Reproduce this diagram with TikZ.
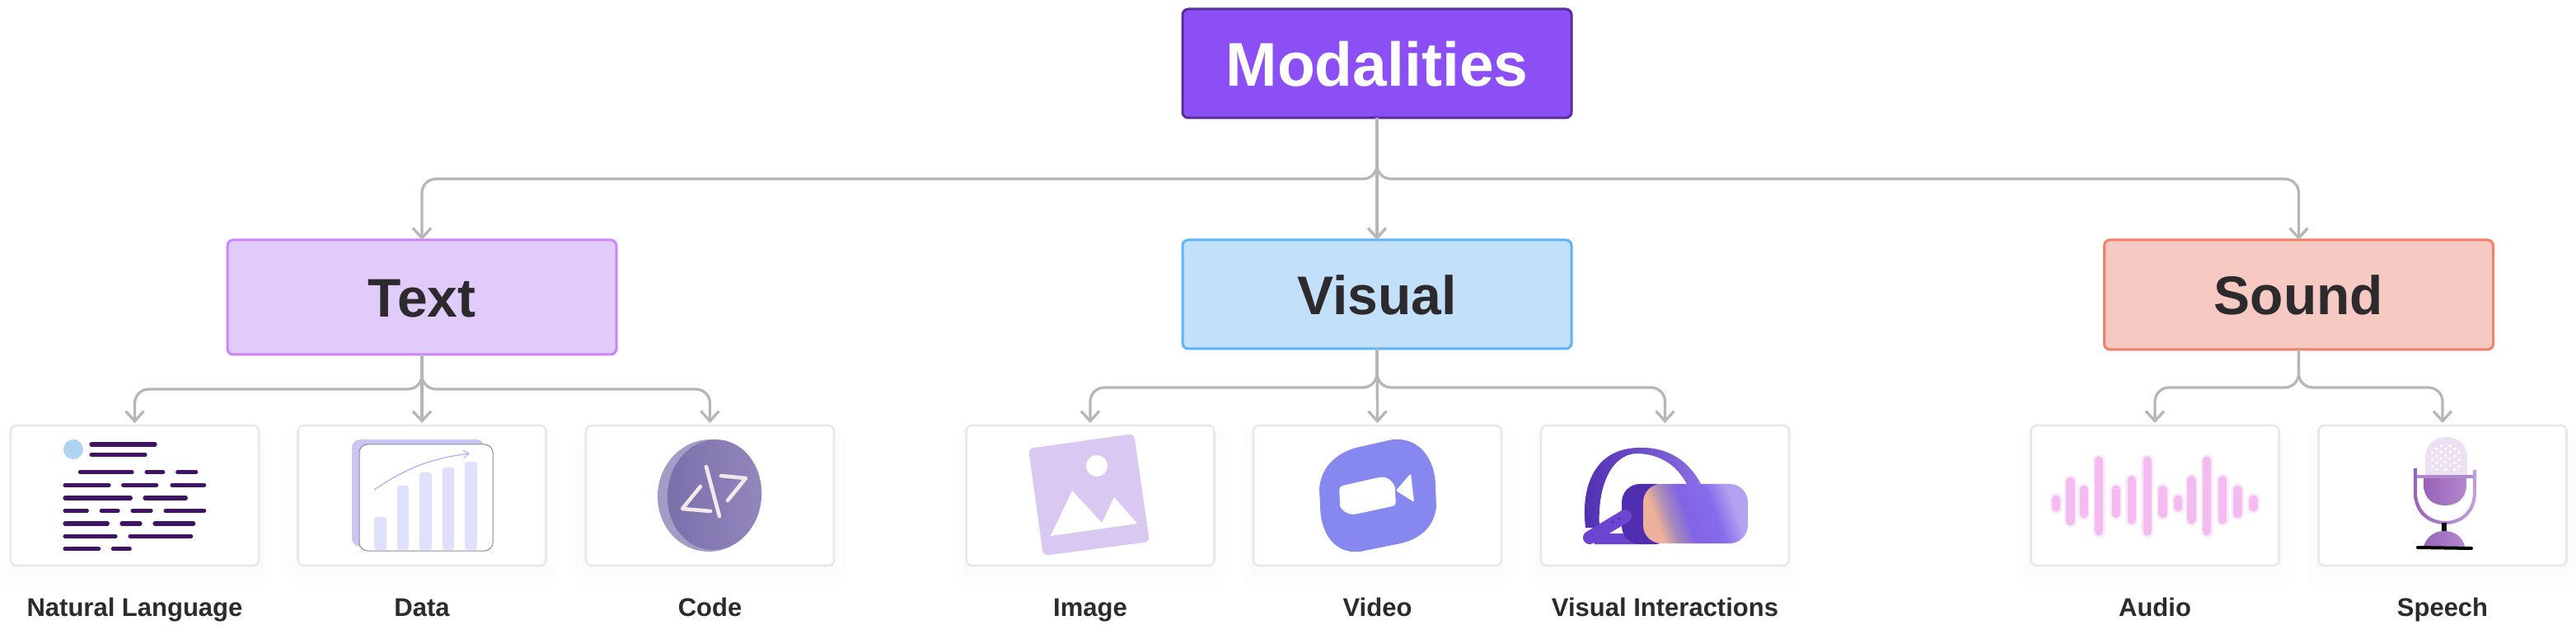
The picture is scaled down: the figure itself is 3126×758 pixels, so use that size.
\documentclass[tikz,border=0pt]{standalone}
\usepackage{fontspec}
\setmainfont{Liberation Sans}
\usetikzlibrary{arrows.meta}
\definecolor{ink}{HTML}{2D2A2E}
\definecolor{lnk}{HTML}{B6B6B6}
\definecolor{nlc}{HTML}{3F1463}
\definecolor{rootfill}{HTML}{8C4EF5}
\definecolor{rootline}{HTML}{5A2C9D}
\definecolor{textfill}{HTML}{E0CBFA}
\definecolor{textline}{HTML}{CD83FB}
\definecolor{visfill}{HTML}{C3E0FB}
\definecolor{visline}{HTML}{5CB5FC}
\definecolor{sndfill}{HTML}{F6C9C3}
\definecolor{sndline}{HTML}{F47E66}
\definecolor{vra}{HTML}{EDB09A}
\definecolor{vrb}{HTML}{A88CB8}
\definecolor{vrc}{HTML}{8264E6}
\definecolor{vrd}{HTML}{866CEA}
\definecolor{vre}{HTML}{B3A1F2}
\definecolor{vrdark}{HTML}{4F2EB0}
\definecolor{vrmid}{HTML}{6B45CF}
\definecolor{vrlight}{HTML}{8A6EE2}
\definecolor{databack}{HTML}{C9C5F5}
\definecolor{databar}{HTML}{DFE0FB}
\definecolor{datacurve}{HTML}{B8A9F5}
\definecolor{codeback}{HTML}{A39CC6}
\definecolor{codea}{HTML}{7A6FA9}
\definecolor{codeb}{HTML}{9387BD}
\definecolor{codeglyph}{HTML}{F3E8EE}
\definecolor{imgc}{HTML}{D9C8F2}
\definecolor{vidc}{HTML}{8688EF}
\definecolor{wavec}{HTML}{F3BBF0}
\definecolor{waveg}{HTML}{FAEAFB}
\definecolor{mictop}{HTML}{EEE0F3}
\definecolor{mica}{HTML}{9A62B8}
\definecolor{micb}{HTML}{B088CC}
\definecolor{micl}{HTML}{C0A0DC}
\definecolor{nlcirc}{HTML}{AED4F0}
\definecolor{shadea}{HTML}{FDFDFD}
\definecolor{shadeb}{HTML}{FBFBFB}
\pgfdeclarehorizontalshading{vrg}{100bp}{color(0bp)=(vra); color(29bp)=(vra); color(36bp)=(vrb); color(45bp)=(vrc); color(60bp)=(vrd); color(71bp)=(vre); color(100bp)=(vre)}
\tikzset{
  catbox/.style={line width=1.5pt,rounded corners=3.5pt,inner sep=0pt,outer sep=0pt,minimum width=236pt,text=ink,font=\fontsize{33}{36}\selectfont\bfseries,text height=24.5pt,text depth=0pt},
  leafbox/.style={draw=black!9,fill=white,line width=1.3pt,rounded corners=3.5pt,inner sep=0pt,outer sep=0pt,minimum width=150.5pt,minimum height=85pt},
  leaflabel/.style={anchor=base,text=ink,font=\fontsize{15.5}{17}\selectfont\bfseries,inner sep=0pt},
  conn/.style={draw=lnk,line width=1.6pt,rounded corners=8.5pt,-{Straight Barb[length=6pt,width=11pt,line width=1.6pt]}},
  leafconn/.style={conn,shorten >=1.5pt},
  nlbar/.style={draw=nlc,line width=2.6pt,line cap=round},
  wave/.style={line cap=round}
}
\begin{document}
\begin{tikzpicture}[x=0.5pt,y=-0.5pt]
\useasboundingbox (0,0) rectangle (3126,758);
\fill[white] (0,0) rectangle (3126,758);

% soft shadows of the leaf boxes
\foreach \l/\r in {13/314,362/662,711/1012,1172.5/1473.5,1521/1822,1870/2171,2464.5/2765,2814/3114}{
  \fill[shadea,rounded corners=8pt] (\l-14,520) rectangle (\r+14,712);
}
\foreach \l/\r in {13/314,362/662,711/1012,1172.5/1473.5,1521/1822,1870/2171,2464.5/2765,2814/3114}{
  \fill[shadeb,rounded corners=6pt] (\l-5,520) rectangle (\r+5,698);
}

% category nodes
\node[catbox,draw=rootline,fill=rootfill,text=white,font=\fontsize{37.5}{40}\selectfont\bfseries,text height=28pt,minimum height=66pt] (root) at (1671,77) {Modalities};
\node[catbox,draw=textline,fill=textfill,minimum height=69.5pt] (text) at (512,360.5) {Text};
\node[catbox,draw=visline,fill=visfill,minimum height=66pt] (visual) at (1671,357) {Visual};
\node[catbox,draw=sndline,fill=sndfill,minimum height=66.5pt] (sound) at (2789.5,357.5) {Sound};

% leaf nodes
\node[leafbox] (nl) at (163.5,601) {};
\node[leafbox] (data) at (512,601) {};
\node[leafbox] (code) at (861.5,601) {};
\node[leafbox] (image) at (1323,601) {};
\node[leafbox] (video) at (1671.5,601) {};
\node[leafbox] (vint) at (2020.5,601) {};
\node[leafbox] (audio) at (2615,601) {};
\node[leafbox] (speech) at (2964,601) {};

% leaf labels
\node[leaflabel] (lnl) at (163.5,747) {Natural Language};
\node[leaflabel] (ldata) at (512,747) {Data};
\node[leaflabel] (lcode) at (861.5,747) {Code};
\node[leaflabel] (limage) at (1323,747) {Image};
\node[leaflabel] (lvideo) at (1671.5,747) {Video};
\node[leaflabel] (lvint) at (2020.5,747) {Visual Interactions};
\node[leaflabel] (laudio) at (2615,747) {Audio};
\node[leaflabel] (lspeech) at (2964,747) {Speech};

% connectors
\coordinate (busa) at (0,217);
\coordinate (busb) at (0,472);
\coordinate (busc) at (0,470);
\draw[conn] (root.south) -- (root.south |- busa) -- (text.north |- busa) -- (text.north);
\draw[conn] (root.south) -- (visual.north);
\draw[conn] (root.south) -- (root.south |- busa) -- (sound.north |- busa) -- (sound.north);
\draw[leafconn] (text.south) -- (text.south |- busb) -- (nl.north |- busb) -- (nl.north);
\draw[leafconn] (text.south) -- (data.north);
\draw[leafconn] (text.south) -- (text.south |- busb) -- (code.north |- busb) -- (code.north);
\draw[leafconn] (visual.south) -- (visual.south |- busc) -- (image.north |- busc) -- (image.north);
\draw[leafconn] (visual.south) -- (video.north);
\draw[leafconn] (visual.south) -- (visual.south |- busc) -- (vint.north |- busc) -- (vint.north);
\draw[leafconn] (sound.south) -- (sound.south |- busc) -- (audio.north |- busc) -- (audio.north);
\draw[leafconn] (sound.south) -- (sound.south |- busc) -- (speech.north |- busc) -- (speech.north);

% icon: natural language
\fill[nlcirc] (89,545) circle (12);
\foreach \y/\a/\b in {87/325/572,124/325/536,188/284/488,188/526/601,188/639/721,235/229/404,235/441/577,235/619/751,282/229/483,282/520/684,328/229/324,328/362/437,328/475/557,328/595/751,375/229/399,375/436/518,375/556/712,421/229/428,421/466/703,467/229/367,467/404/480}{
  \draw[nlbar] ({(\a+8)/3},{510+\y/3}) -- ({(\b-8)/3},{510+\y/3});
}

% icon: data
\fill[databack,rounded corners=5pt] (427,533) rectangle (588,663);
\draw[black!45,fill=white,line width=0.5pt,rounded corners=5pt] (436,539) rectangle (598,668);
\foreach \a/\b/\t in {454/469/627,482/496/589,509/524/573,537/551/567,564/579/560}{
  \fill[databar,rounded corners=1.5pt] (\a,\t) -- (\b,\t) -- (\b,667) -- (\a,667) -- cycle;
}
\draw[datacurve,line width=0.6pt,-{Straight Barb[length=3.5pt,width=5pt,line width=0.5pt]}] (454,594) .. controls (490,570) and (520,556) .. (570,550);

% icon: code
\fill[codeback,rotate around={-6:(861,601)}] (861,601) ellipse (63 and 68);
\shade[left color=codea,right color=codeb,rotate around={-6:(867,600)}] (867,600) ellipse (57 and 67);
\draw[codeglyph,line width=2.3pt,line cap=round,line join=round] (850,590) -- (828,617) -- (862,620);
\draw[codeglyph,line width=2.3pt,line cap=round] (857,566) -- (873,626);
\draw[codeglyph,line width=2.3pt,line cap=round,line join=round] (875,577) -- (905,580) -- (883,607);

% icon: image
\fill[imgc,rounded corners=3pt] (1248,544) -- (1376,526) -- (1395,657) -- (1266,674) -- cycle;
\fill[white] (1331,565) circle (13);
\fill[white] (1275,650) -- (1301,595) -- (1337,634) -- (1352,603) -- (1380,635) -- cycle;

% icon: video
\fill[vidc] (1650,542) -- (1690,533) .. controls (1725,530) and (1742,560) .. (1742,590) -- (1743,615) .. controls (1740,640) and (1722,655) .. (1695,660) -- (1650,669) .. controls (1622,672) and (1602,650) .. (1602,612) -- (1601,595) .. controls (1601,570) and (1620,548) .. (1650,542) -- cycle;
\fill[white,rounded corners=2pt] (1625,590) -- (1673,579) .. controls (1685,578) and (1693,587) .. (1693,597) -- (1694,613) -- (1648,623) .. controls (1636,625) and (1626,618) .. (1626,608) -- cycle;
\fill[white,rounded corners=1pt] (1694,595) -- (1712,574) -- (1716,609) -- cycle;

% icon: visual interactions
\shade[left color=vrdark,right color=vrlight] (1924,640) .. controls (1918,590) and (1935,543) .. (1990,543) .. controls (2025,542) and (2050,560) .. (2064,587) -- (2047,587) .. controls (2035,565) and (2015,550) .. (1985,550) .. controls (1955,552) and (1938,590) .. (1941,640) -- cycle;
\fill[vrmid] (1930,647) -- (1990,647) -- (1990,660) -- (1935,660) -- cycle;
\fill[vrdark,rounded corners=11pt] (1968,587) rectangle (2030,660);
\shade[shading=vrg,shading angle=20,rounded corners=11pt] (1994,587) rectangle (2121,659);
\draw[vrmid,line width=8pt,line cap=round] (1929,652) -- (1972,626);
\fill[vrdark] (1957,633) circle (1.8) (1965,629) circle (1.8);

% icon: audio
\foreach \x/\a/\b in {45/213/270,97/148/320,146/178/293,201/72/357,263/178/292,320/143/315,377/72/357,433/178/293,489/213/270,538/143/315,594/72/357,651/143/315,706/178/293,763/213/270}{
  \draw[wave,waveg,line width=7.5pt] ({2480+\x/3},{530+(\a+14)/3}) -- ({2480+\x/3},{530+(\b-14)/3});
  \draw[wave,wavec,line width=5.2pt] ({2480+\x/3},{530+(\a+14)/3}) -- ({2480+\x/3},{530+(\b-14)/3});
}

% icon: speech
\fill[mictop] (2943,578) -- (2943,556) .. controls (2943,540) and (2953,530) .. (2968,530) .. controls (2984,530) and (2994,540) .. (2994,556) -- (2994,578) -- cycle;
\foreach \px/\py in {307/32,340/32,291/43,323/43,356/43,275/57,307/54,340/54,372/57,291/69,323/66,356/69,275/82,307/79,340/79,372/82,291/94,323/91,356/94,275/107,307/104,340/104,372/107,291/118,323/118,356/118}{
  \fill[white] ({2860+\px/3},{530+\py/3}) circle (1.9);
}
\shade[left color=mica,right color=micb] (2941,578) -- (2941,588) .. controls (2941,605) and (2953,613) .. (2967,613) .. controls (2981,613) and (2993,605) .. (2993,588) -- (2993,578) -- cycle;
\draw[micb,line width=2pt] (2931,578) -- (3003,578);
\shade[left color=mica,right color=micl] (2929,568) -- (2933,568) -- (2933,597) .. controls (2933,620) and (2950,632) .. (2967,632) .. controls (2985,632) and (3001,620) .. (3001,597) -- (3001,570) -- (3005,570) -- (3005,597) .. controls (3005,622) and (2988,636) .. (2967,636) .. controls (2946,636) and (2929,622) .. (2929,597) -- cycle;
\draw[black,line width=2.6pt] (2966,634) -- (2966,646);
\shade[left color=mica,right color=micb] (2941,663) .. controls (2945,650) and (2955,644) .. (2966,644) .. controls (2978,644) and (2988,650) .. (2991,663) -- cycle;
\draw[black,line width=2pt,line cap=round] (2934,664) -- (2999,665);
\end{tikzpicture}
\end{document}
